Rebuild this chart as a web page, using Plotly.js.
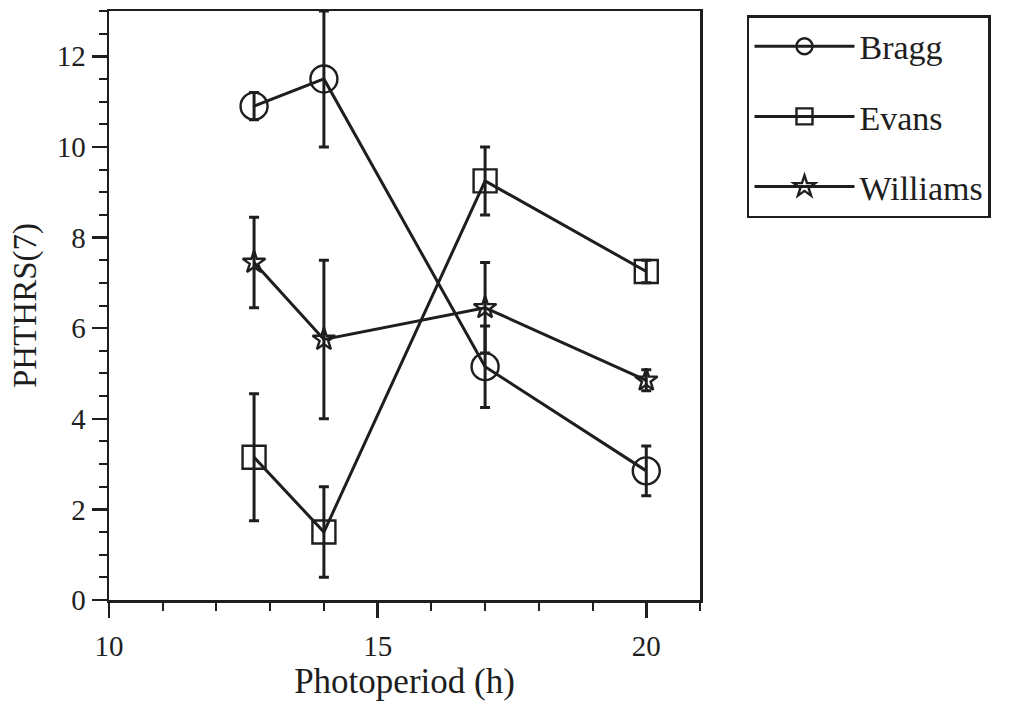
<!DOCTYPE html>
<html>
<head>
<meta charset="utf-8">
<script src="https://cdn.plot.ly/plotly-3.0.1.min.js"></script>
<style>html,body{margin:0;padding:0;background:#fff;}#chart{width:1014px;height:709px;}</style>
</head>
<body>
<div id="chart"></div>
<script>
const photoperiod = [12.7, 14, 17, 20];
const bragg = [10.9, 11.5, 5.15, 2.85];
const braggErr = [0.3, 1.5, 0.9, 0.55];
const evans = [3.15, 1.5, 9.25, 7.25];
const evansErr = [1.4, 1.0, 0.75, 0.25];
const williams = [7.45, 5.75, 6.45, 4.85];
const williamsErr = [1.0, 1.75, 1.0, 0.23];
const seriesNames = ['Bragg', 'Evans', 'Williams'];

const ink = '#1e1e1e';
const serif = 'Liberation Serif, Times New Roman, serif';

function series(name, y, err, symbol, size, group) {
  return {
    type: 'scatter', mode: 'lines+markers', name: name,
    x: photoperiod, y: y,
    legendgroup: group,
    line: {color: ink, width: 3},
    marker: {symbol: symbol, size: size, color: ink, line: {color: ink, width: 2.4}},
    error_y: {type: 'data', array: err, visible: true, color: ink, thickness: 3, width: 5},
    cliponaxis: true
  };
}

const data = [
  series(seriesNames[0], bragg, braggErr, 'circle-open', 27, 'g1'),
  series(seriesNames[1], evans, evansErr, 'square-open', 23, 'g2'),
  series(seriesNames[2], williams, williamsErr, 'star-open', 17, 'g3')
];

const layout = {
  width: 1014, height: 709,
  margin: {l: 109, r: 314, t: 11, b: 109},
  paper_bgcolor: '#ffffff', plot_bgcolor: '#ffffff',
  font: {family: serif, color: ink, size: 28},
  showlegend: true,
  legend: {
    x: 1.0795, xanchor: 'left', y: 0.993, yanchor: 'top',
    bordercolor: ink, borderwidth: 2.5, bgcolor: '#ffffff',
    font: {family: serif, size: 34, color: ink},
    tracegroupgap: 23, itemwidth: 100, traceorder: 'grouped'
  },
  xaxis: {
    range: [10, 21], tick0: 10, dtick: 5,
    showgrid: false, zeroline: false,
    showline: true, linecolor: ink, linewidth: 2.5, mirror: true,
    ticks: 'outside', ticklen: 15, tickwidth: 2.5, tickcolor: ink,
    ticklabelstandoff: 4,
    tickfont: {family: serif, size: 29, color: ink},
    minor: {dtick: 1, ticks: 'outside', ticklen: 8, tickwidth: 2, tickcolor: ink, showgrid: false},
    title: {text: 'Photoperiod (h)', font: {family: serif, size: 35, color: ink}, standoff: 6}
  },
  yaxis: {
    range: [0, 13], tick0: 0, dtick: 2,
    showgrid: false, zeroline: false,
    showline: true, linecolor: ink, linewidth: 2.5, mirror: true,
    ticks: 'outside', ticklen: 15, tickwidth: 2.5, tickcolor: ink,
    ticklabelstandoff: 0,
    tickfont: {family: serif, size: 29, color: ink},
    minor: {dtick: 0.5, ticks: 'outside', ticklen: 8, tickwidth: 2, tickcolor: ink, showgrid: false},
    title: {text: 'PHTHRS(7)', font: {family: serif, size: 33, color: ink}, standoff: 10}
  }
};

Plotly.newPlot('chart', data, layout, {displayModeBar: false, staticPlot: true});
</script>
</body>
</html>
